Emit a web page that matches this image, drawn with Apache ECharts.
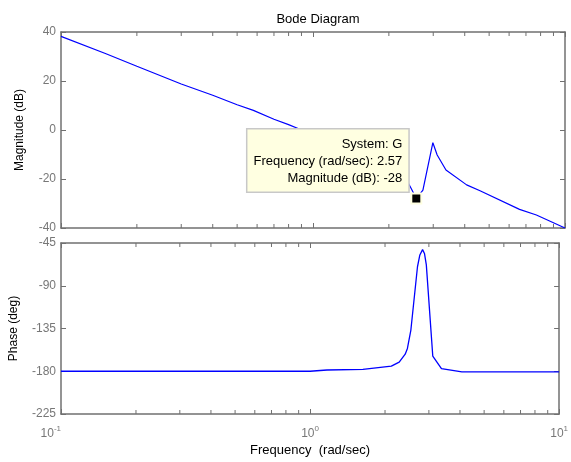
<!DOCTYPE html>
<html>
<head>
<meta charset="utf-8">
<script src="https://cdn.jsdelivr.net/npm/echarts@6/dist/echarts.min.js"></script>
<style>
  html, body { margin: 0; padding: 0; background: #fff; }
  #chart { width: 571px; height: 462px; }
</style>
</head>
<body>
<div id="chart"></div>
<script>
// Magnitude response (dB) against frequency (rad/sec)
const magFreq = [0.1, 0.15, 0.2, 0.3, 0.4, 0.5, 0.58, 0.7, 0.8, 0.887, 1.0, 1.3, 1.6, 2.0, 2.3, 2.45, 2.57, 2.73, 2.99, 3.11, 3.37, 4.07, 4.6, 6.6, 7.7, 10];
const magDb   = [38.2, 31.2, 26.0, 18.8, 14.2, 10.3, 8.0, 4.4, 2.2, 0.3, -1.8, -6.3, -10.0, -14.4, -18.5, -23.8, -28, -24.5, -5.2, -10.2, -16.3, -22.4, -24.8, -32.4, -34.7, -40];

// Phase response (deg) against frequency (rad/sec)
const phaseFreq = [0.1, 1.0, 1.17, 1.63, 2.12, 2.28, 2.41, 2.46, 2.54, 2.70, 2.76, 2.83, 2.88, 2.93, 3.11, 3.37, 4.07, 10];
const phaseDeg  = [-180, -180, -178.7, -178, -174.6, -170.4, -162, -156, -136.6, -70, -57.6, -52, -56, -68, -164, -177.3, -180.7, -180.7];

// Data tip on the magnitude curve
const tipSystem = 'G';
const tipFreq = 2.57;
const tipMag = -28;

// Axis ranges and ticks
const freqRange = [0.1, 10];
const magRange = [-40, 40];
const magStep = 20;
const phaseRange = [-225, -45];
const phaseStep = 45;
const minorFreqTicks = [0.2, 0.3, 0.4, 0.5, 0.6, 0.7, 0.8, 0.9, 2, 3, 4, 5, 6, 7, 8, 9];

const FRAME = '#707070';
const LABEL = '#777777';
const FONT = '"Liberation Sans", Arial, Helvetica, sans-serif';

const chart = echarts.init(document.getElementById('chart'), null, { renderer: 'canvas' });

function expLabel(v) {
  const e = Math.round(Math.log10(v));
  return '{b|10}{s|' + e + '}';
}

function freqAxis(gridIndex, position, showLabels, name) {
  const ax = {
    type: 'log', logBase: 10, gridIndex: gridIndex, position: position,
    min: freqRange[0], max: freqRange[1],
    axisLine: { show: true, onZero: false, lineStyle: { color: FRAME, width: 1.5 } },
    axisTick: { show: true, inside: true, length: 5, lineStyle: { color: FRAME, width: 1 } },
    splitLine: { show: false },
    axisLabel: { show: false }
  };
  if (showLabels) {
    ax.axisLabel = {
      show: true, margin: 11, color: LABEL, fontFamily: FONT,
      alignMinLabel: 'right',
      formatter: expLabel,
      rich: {
        b: { fontSize: 12, fontFamily: FONT, color: LABEL },
        s: { fontSize: 8, fontFamily: FONT, color: LABEL, padding: [0, 0, 9, 0] }
      }
    };
  }
  if (name) {
    ax.name = name;
    ax.nameLocation = 'middle';
    ax.nameGap = 30;
    ax.nameTextStyle = { color: '#000', fontSize: 13, fontFamily: FONT };
  }
  return ax;
}

function valueAxis(gridIndex, position, range, step, name, nameGap) {
  const ax = {
    type: 'value', gridIndex: gridIndex, position: position,
    min: range[0], max: range[1], interval: step,
    axisLine: { show: true, onZero: false, lineStyle: { color: FRAME, width: 1.5 } },
    axisTick: { show: true, inside: true, length: 5, lineStyle: { color: FRAME, width: 1 } },
    splitLine: { show: false },
    axisLabel: { show: position === 'left', margin: 5, color: LABEL, fontSize: 12, fontFamily: FONT }
  };
  if (name) {
    ax.name = name;
    ax.nameLocation = 'middle';
    ax.nameGap = nameGap;
    ax.nameTextStyle = { color: '#000', fontSize: 12, fontFamily: FONT };
  }
  return ax;
}

// Minor log ticks drawn on both the bottom and top edges of a plot box
function minorTickSeries(xIdx, yIdx, range) {
  return {
    type: 'custom', xAxisIndex: xIdx, yAxisIndex: yIdx, silent: true, clip: false,
    data: minorFreqTicks.map(f => [f, range[0]]),
    renderItem: function (params, api) {
      const f = api.value(0);
      const pb = api.coord([f, range[0]]);
      const pt = api.coord([f, range[1]]);
      const st = { stroke: FRAME, lineWidth: 1 };
      return {
        type: 'group',
        children: [
          { type: 'line', shape: { x1: pb[0], y1: pb[1], x2: pb[0], y2: pb[1] - 4 }, style: st },
          { type: 'line', shape: { x1: pt[0], y1: pt[1], x2: pt[0], y2: pt[1] + 4 }, style: st }
        ]
      };
    },
    z: 5
  };
}

const option = {
  backgroundColor: '#ffffff',
  animation: false,
  title: {
    text: 'Bode Diagram', left: 313, top: 8, textAlign: 'center',
    textStyle: { color: '#000', fontSize: 13, fontWeight: 'normal', fontFamily: FONT }
  },
  grid: [
    { left: 61, top: 32, width: 504, height: 196 },
    { left: 61, top: 243, width: 504, height: 171 }
  ],
  xAxis: [
    freqAxis(0, 'bottom', false),
    freqAxis(0, 'top', false),
    freqAxis(1, 'bottom', true, 'Frequency  (rad/sec)'),
    freqAxis(1, 'top', false)
  ],
  yAxis: [
    valueAxis(0, 'left', magRange, magStep, 'Magnitude (dB)', 35),
    valueAxis(0, 'right', magRange, magStep),
    valueAxis(1, 'left', phaseRange, phaseStep, 'Phase (deg)', 41),
    valueAxis(1, 'right', phaseRange, phaseStep)
  ],
  series: [
    {
      type: 'line', xAxisIndex: 0, yAxisIndex: 0,
      data: magFreq.map((f, i) => [f, magDb[i]]),
      showSymbol: false, lineStyle: { color: '#0000ff', width: 1.2 }, z: 3
    },
    {
      type: 'line', xAxisIndex: 2, yAxisIndex: 2,
      data: phaseFreq.map((f, i) => [f, phaseDeg[i]]),
      showSymbol: false, lineStyle: { color: '#0000ff', width: 1.3 }, z: 3
    },
    minorTickSeries(0, 0, magRange),
    minorTickSeries(2, 2, phaseRange),
    {
      // data tip marker with its text box
      type: 'scatter', xAxisIndex: 0, yAxisIndex: 0,
      data: [[tipFreq, tipMag]],
      symbol: 'rect', symbolSize: 10,
      itemStyle: { color: '#000', borderColor: '#ffffe1', borderWidth: 2, opacity: 1 },
      silent: true, z: 10,
      label: {
        show: true,
        position: [-2, -1],
        align: 'right',
        verticalAlign: 'bottom',
        opacity: 1,
        formatter: function (p) {
          return 'System: ' + tipSystem + '\n' +
                 'Frequency (rad/sec): ' + p.value[0].toFixed(2) + '\n' +
                 'Magnitude (dB): ' + p.value[1];
        },
        color: '#000', fontSize: 13, fontFamily: FONT, lineHeight: 17,
        backgroundColor: '#ffffe1', borderColor: '#c8c8c8', borderWidth: 1.5,
        padding: [6, 6, 5, 6]
      }
    }
  ]
};

chart.setOption(option);
</script>
</body>
</html>
